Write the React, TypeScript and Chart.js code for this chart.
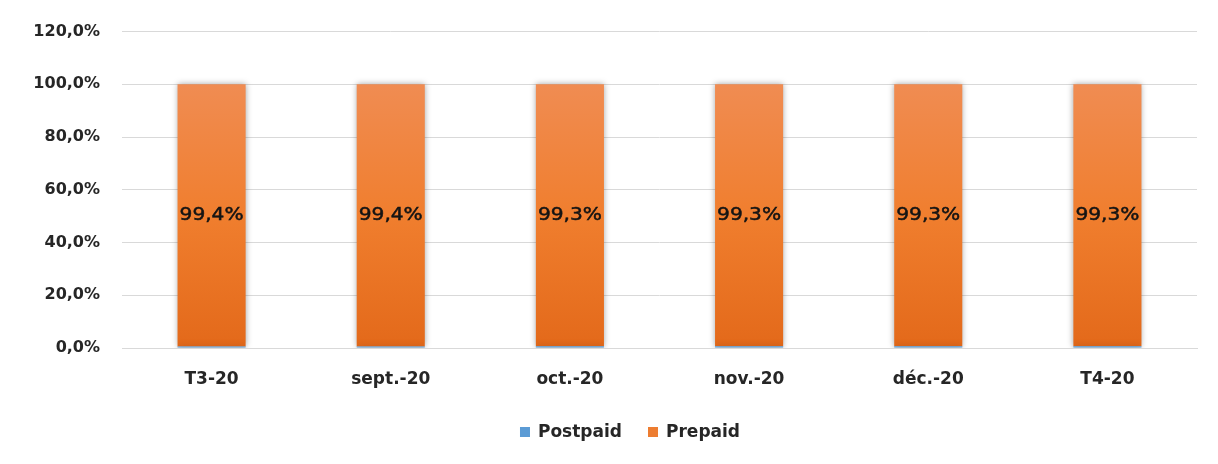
import React, { useEffect, useRef } from "react";
import { Chart, registerables } from "chart.js";

Chart.register(...registerables);

const categories = ["T3-20", "sept.-20", "oct.-20", "nov.-20", "déc.-20", "T4-20"];
const postpaid = [0.6, 0.6, 0.7, 0.7, 0.7, 0.7];
const prepaid = [99.4, 99.4, 99.3, 99.3, 99.3, 99.3];
const prepaidLabels = ["99,4%", "99,4%", "99,3%", "99,3%", "99,3%", "99,3%"];
const seriesNames = ["Postpaid", "Prepaid"];
const seriesColors = ["#5B9BD5", "#ED7D31"];

const FONT = "'DejaVu Sans', 'Noto Sans', sans-serif";

const shadowPlugin = {
  id: "barShadow",
  beforeDatasetsDraw(chart: any) {
    const ctx = chart.ctx;
    ctx.save();
    ctx.shadowColor = "rgba(0,0,0,0.35)";
    ctx.shadowBlur = 6;
  },
  afterDatasetsDraw(chart: any) {
    chart.ctx.restore();
  },
};

const labelPlugin = {
  id: "barLabels",
  afterDatasetsDraw(chart: any) {
    const ctx = chart.ctx;
    const meta = chart.getDatasetMeta(1);
    ctx.save();
    ctx.font = `18px ${FONT}`;
    ctx.fillStyle = "#141414";
    ctx.strokeStyle = "#141414";
    ctx.lineWidth = 0.5;
    ctx.textAlign = "center";
    ctx.textBaseline = "middle";
    meta.data.forEach((bar: any, i: number) => {
      const y = (bar.y + bar.base) / 2;
      ctx.save();
      ctx.translate(bar.x, y);
      ctx.scale(1.12, 1);
      ctx.fillText(prepaidLabels[i], 0, 0);
      ctx.strokeText(prepaidLabels[i], 0, 0);
      ctx.restore();
    });
    ctx.restore();
  },
};

const legendPlugin = {
  id: "customLegend",
  afterDraw(chart: any) {
    const ctx = chart.ctx;
    ctx.save();
    ctx.font = `bold 17px ${FONT}`;
    ctx.textBaseline = "middle";
    ctx.textAlign = "left";
    const box = 10;
    const gapText = 8;
    const gapItem = 26;
    const widths = seriesNames.map((n) => ctx.measureText(n).width);
    const total = widths.reduce((a, w) => a + box + gapText + w, 0) + gapItem * (seriesNames.length - 1);
    let x = 630 - total / 2;
    const y = 432;
    seriesNames.forEach((n, i) => {
      ctx.fillStyle = seriesColors[i];
      ctx.fillRect(x, y - box / 2, box, box);
      x += box + gapText;
      ctx.fillStyle = "#262626";
      ctx.fillText(n, x, y + 1);
      x += widths[i] + gapItem;
    });
    ctx.restore();
  },
};

export default function App() {
  const ref = useRef<HTMLCanvasElement>(null);
  useEffect(() => {
    if (!ref.current) return;
    const chart = new Chart(ref.current, {
      type: "bar",
      data: {
        labels: categories,
        datasets: [
          {
            label: seriesNames[0],
            data: postpaid,
            backgroundColor: seriesColors[0],
            barPercentage: 0.76,
            categoryPercentage: 0.5,
          },
          {
            label: seriesNames[1],
            data: prepaid,
            backgroundColor: (c: any) => {
              const area = c.chart.chartArea;
              if (!area) return seriesColors[1];
              const ys = c.chart.scales.y;
              const g = c.chart.ctx.createLinearGradient(0, ys.getPixelForValue(100), 0, ys.getPixelForValue(0));
              g.addColorStop(0, "#F08C52");
              g.addColorStop(0.5, "#F07E2E");
              g.addColorStop(1, "#E3691A");
              return g;
            },
            barPercentage: 0.76,
            categoryPercentage: 0.5,
          },
        ],
      },
      options: {
        animation: false,
        responsive: false,
        maintainAspectRatio: false,
        layout: { padding: { top: 31, right: 21, bottom: 50, left: 0 } },
        plugins: {
          tooltip: { enabled: false },
          legend: { display: false },
        },
        scales: {
          x: {
            stacked: true,
            grid: { display: false, drawTicks: false },
            border: { display: true, color: "#d9d9d9", width: 1 },
            ticks: {
              color: "#262626",
              padding: 21,
              font: { family: FONT, size: 17, weight: "bold" },
              maxRotation: 0,
            },
            afterFit: (s: any) => {
              s.height = 66;
            },
          },
          y: {
            stacked: true,
            min: 0,
            max: 120,
            grid: { color: "#d9d9d9", drawTicks: false },
            border: { display: false },
            ticks: {
              stepSize: 20,
              padding: 22,
              color: "#262626",
              font: { family: FONT, size: 16, weight: "bold" },
              callback: (v: any) => Number(v).toFixed(1).replace(".", ",") + "%",
            },
            afterFit: (s: any) => {
              s.width = 122;
            },
          },
        },
      },
      plugins: [shadowPlugin, labelPlugin, legendPlugin],
    } as any);
    return () => chart.destroy();
  }, []);
  return (
    <div style={{ position: "fixed", left: 0, top: 0, width: 1218, height: 464, background: "#fff" }}>
      <canvas ref={ref} width={1218} height={464} style={{ display: "block" }} />
    </div>
  );
}
